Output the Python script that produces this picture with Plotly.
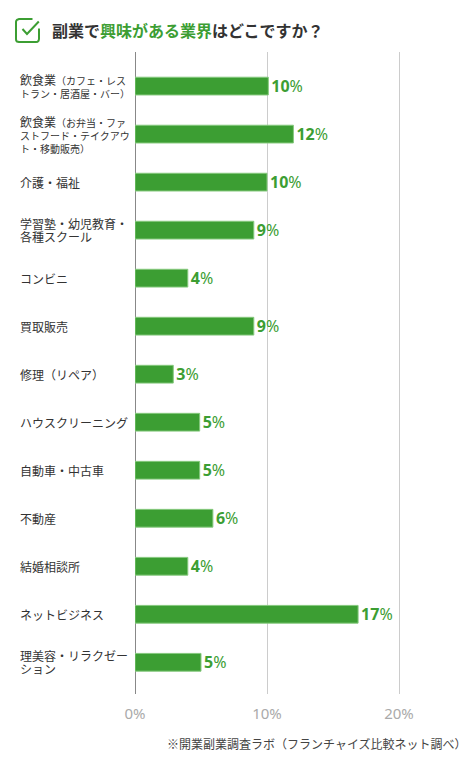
import plotly.graph_objects as go

# ---- data ----
categories = [
    "飲食業（カフェ・レストラン・居酒屋・バー）",
    "飲食業（お弁当・ファストフード・テイクアウト・移動販売）",
    "介護・福祉",
    "学習塾・幼児教育・各種スクール",
    "コンビニ",
    "買取販売",
    "修理（リペア）",
    "ハウスクリーニング",
    "自動車・中古車",
    "不動産",
    "結婚相談所",
    "ネットビジネス",
    "理美容・リラクゼーション",
]
label_lines = [
    "飲食業（カフェ・レス<br>トラン・居酒屋・バー）",
    "飲食業（お弁当・ファ<br>ストフード・テイクアウ<br>ト・移動販売）",
    "介護・福祉",
    "学習塾・幼児教育・<br>各種スクール",
    "コンビニ",
    "買取販売",
    "修理（リペア）",
    "ハウスクリーニング",
    "自動車・中古車",
    "不動産",
    "結婚相談所",
    "ネットビジネス",
    "理美容・リラクゼー<br>ション",
]
values = [10.1, 12.0, 10.0, 9.0, 4.0, 9.0, 2.9, 4.9, 4.9, 5.9, 4.0, 16.9, 5.0]
x_ticks = [0, 10, 20]
x_tick_labels = ["0%", "10%", "20%"]
title_parts = ["副業で", "興味がある業界", "はどこですか？"]
footnote = "※開業副業調査ラボ（フランチャイズ比較ネット調べ）"

# ---- layout constants ----
W, H = 470, 770
L, R, T, B = 135, 5, 52, 76
PW, PH = W - L - R, H - T - B
GREEN = "#3c9e33"
DARK = "#333333"
FONT = "Noto Sans CJK JP"
small_note_idx = {0, 1}


def px2x(px):
    return (px - L) / PW


def py2y(py):
    return (H - B - py) / PH


bar_text = [f"<b>{round(v)}</b>%" for v in values]

fig = go.Figure(
    go.Bar(
        x=values,
        y=categories,
        orientation="h",
        marker=dict(color=GREEN, line=dict(color="#86c97e", width=1)),
        text=bar_text,
        textposition="outside",
        constraintext="none",
        textfont=dict(color=GREEN, size=16, family="Noto Sans"),
        cliponaxis=False,
        hoverinfo="skip",
    )
)

annotations = []
for i, (cat, lab) in enumerate(zip(categories, label_lines)):
    if i in small_note_idx:
        k = lab.index("（")
        txt = f'<span style="font-size:12px">{lab[:k]}</span>{lab[k:]}'
    else:
        txt = f'<span style="font-size:12px">{lab}</span>'
    annotations.append(dict(
        x=px2x(18), xref="paper", xanchor="left",
        y=cat, yref="y", yanchor="middle",
        text=txt, align="left", showarrow=False,
        font=dict(size=10, color=DARK, family=FONT),
    ))

title_html = (
    f'<span style="color:{DARK}">{title_parts[0]}</span>'
    f'<span style="color:{GREEN}">{title_parts[1]}</span>'
    f'<span style="color:{DARK}">{title_parts[2]}</span>'
)
annotations.append(dict(
    x=px2x(50), xref="paper", xanchor="left",
    y=py2y(30), yref="paper", yanchor="middle",
    text=f"<b>{title_html}</b>", showarrow=False,
    font=dict(size=16, color=DARK, family=FONT),
))
annotations.append(dict(
    x=px2x(469), xref="paper", xanchor="right",
    y=py2y(744), yref="paper", yanchor="middle",
    text=footnote, showarrow=False,
    font=dict(size=12, color="#444444", family=FONT),
))


def path(points):
    parts = []
    for j, (a, b) in enumerate(points):
        parts.append(("M" if j == 0 else "L") + f"{px2x(a):.5f},{py2y(b):.5f}")
    return " ".join(parts)


box = path([
    (32.5, 19), (19, 19), (17, 19.8), (16.2, 21), (16, 22),
    (16, 39), (16.2, 40.5), (17, 41.5), (19, 42),
    (36, 42), (37.5, 41.8), (38.6, 40.8), (39, 39), (39, 28.5),
])
check = path([(22.5, 29), (27, 34), (38.8, 21.5)])
shapes = [
    dict(type="path", xref="paper", yref="paper", path=box,
         line=dict(color=GREEN, width=2)),
    dict(type="path", xref="paper", yref="paper", path=check,
         line=dict(color=GREEN, width=2)),
]

fig.update_layout(
    width=W, height=H,
    margin=dict(l=L, r=R, t=T, b=B, pad=0),
    paper_bgcolor="white", plot_bgcolor="white",
    showlegend=False,
    bargap=0.63,
    annotations=annotations,
    shapes=shapes,
    font=dict(family=FONT),
    xaxis=dict(
        range=[0, 25],
        tickvals=x_ticks, ticktext=x_tick_labels,
        showgrid=True, gridcolor="#cccccc", gridwidth=1,
        zeroline=True, zerolinecolor="#888888", zerolinewidth=1,
        showline=False, ticks="",
        tickfont=dict(size=15, color="#aaaaaa", family="Noto Sans"),
        ticklabelstandoff=9,
        fixedrange=True,
    ),
    yaxis=dict(
        type="category",
        categoryorder="array", categoryarray=categories,
        range=[12.66, -0.71],
        showticklabels=False, showgrid=False, zeroline=False,
        ticks="", fixedrange=True,
    ),
)

fig.write_html("out.html", config={"displayModeBar": False})
